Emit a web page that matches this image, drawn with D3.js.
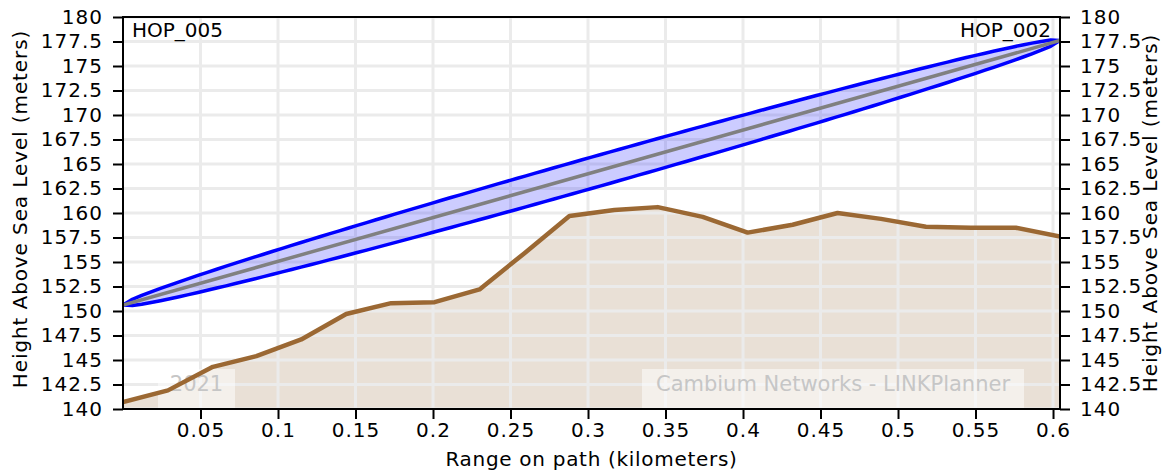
<!DOCTYPE html>
<html>
<head>
<meta charset="utf-8">
<script src="https://cdn.jsdelivr.net/npm/d3@7"></script>
<style>
  body { margin: 0; background: #fff; }
  svg { display: block; }
  text { font-family: "DejaVu Sans", sans-serif; }
</style>
</head>
<body>
<svg id="chart"></svg>
<script>
//Profile data
const distances = [0, 0.029, 0.058, 0.086, 0.115, 0.144, 0.173, 0.201, 0.230, 0.259, 0.288,
  0.317, 0.345, 0.374, 0.403, 0.432, 0.461, 0.489, 0.518, 0.547, 0.576, 0.6045];
const terrain = [140.7, 141.9, 144.3, 145.4, 147.1, 149.7, 150.8, 150.9, 152.2, 155.9, 159.7,
  160.3, 160.6, 159.6, 158.0, 158.8, 160.0, 159.4, 158.6, 158.5, 158.5, 157.6];

//Link ends
const siteNames = ['HOP_005', 'HOP_002'];
const siteHeights = [150.6, 177.6];
const pathLength = 0.6045;
const fresnelRadius = 1.6; //metres at mid path

const xTicks = [0.05, 0.1, 0.15, 0.2, 0.25, 0.3, 0.35, 0.4, 0.45, 0.5, 0.55, 0.6];
const yTicks = [140, 142.5, 145, 147.5, 150, 152.5, 155, 157.5, 160, 162.5, 165, 167.5,
  170, 172.5, 175, 177.5, 180];

const width = 1162;
const height = 475;
const margin = { top: 17, right: 102, bottom: 66, left: 123 };

const svg = d3.select('#chart').attr('width', width).attr('height', height);

const x = d3.scaleLinear().domain([0, pathLength]).range([margin.left, width - margin.right]);
const y = d3.scaleLinear().domain([140, 180]).range([height - margin.bottom, margin.top]);

svg.append('clipPath').attr('id', 'plot-clip').append('rect')
  .attr('x', margin.left).attr('y', margin.top)
  .attr('width', x.range()[1] - x.range()[0])
  .attr('height', y.range()[0] - y.range()[1]);

const plot = svg.append('g').attr('clip-path', 'url(#plot-clip)');

//Terrain fill
const terrainData = distances.map((d, i) => ({ d: d, h: terrain[i] }));
plot.append('path')
  .datum(terrainData)
  .attr('d', d3.area().x(p => x(p.d)).y0(y(140)).y1(p => y(p.h)))
  .attr('fill', '#e9e0d6');

//Grid
plot.selectAll('line.vgrid')
  .data(xTicks)
  .enter()
  .append('line')
  .attr('x1', d => x(d)).attr('x2', d => x(d))
  .attr('y1', margin.top).attr('y2', y(140))
  .attr('stroke', '#ebebeb').attr('stroke-width', 3);
plot.selectAll('line.hgrid')
  .data(yTicks)
  .enter()
  .append('line')
  .attr('y1', d => y(d)).attr('y2', d => y(d))
  .attr('x1', margin.left).attr('x2', x(pathLength))
  .attr('stroke', '#ebebeb').attr('stroke-width', 3);

//Watermarks
const marks = [
  { text: '2021', x0: 158, x1: 235 },
  { text: 'Cambium Networks - LINKPlanner', x0: 642, x1: 1024 }
];
marks.forEach(m => {
  plot.append('rect')
    .attr('x', m.x0).attr('y', 369)
    .attr('width', m.x1 - m.x0).attr('height', 40)
    .attr('fill', '#fff').attr('fill-opacity', 0.5);
  plot.append('text')
    .attr('x', (m.x0 + m.x1) / 2).attr('y', 385)
    .attr('text-anchor', 'middle')
    .attr('dominant-baseline', 'middle')
    .attr('font-size', 21)
    .attr('fill', '#c6c6c6')
    .text(m.text);
});

//Terrain line
plot.append('path')
  .datum(terrainData)
  .attr('d', d3.line().x(p => x(p.d)).y(p => y(p.h)))
  .attr('fill', 'none')
  .attr('stroke', '#9b6833')
  .attr('stroke-width', 4.5)
  .attr('stroke-linejoin', 'round');

//Fresnel zone
const losAt = d => siteHeights[0] + (siteHeights[1] - siteHeights[0]) * d / pathLength;
const steps = d3.range(0, 101).map(i => pathLength * i / 100);
const upper = steps.map(d => {
  const t = d / pathLength;
  return [x(d), y(losAt(d) + 2 * fresnelRadius * Math.sqrt(t * (1 - t)))];
});
const lower = steps.map(d => {
  const t = d / pathLength;
  return [x(d), y(losAt(d) - 2 * fresnelRadius * Math.sqrt(t * (1 - t)))];
}).reverse();
plot.append('path')
  .attr('d', d3.line()(upper.concat(lower)) + 'Z')
  .attr('fill', '#0000ff').attr('fill-opacity', 0.2)
  .attr('stroke', '#0000ff').attr('stroke-width', 3.5)
  .attr('stroke-linejoin', 'round');

//Line of sight
plot.append('line')
  .attr('x1', x(0)).attr('y1', y(siteHeights[0]))
  .attr('x2', x(pathLength)).attr('y2', y(siteHeights[1]))
  .attr('stroke', '#808080').attr('stroke-width', 3.5);

//Site names
svg.append('text')
  .attr('x', margin.left + 9).attr('y', 37)
  .attr('font-family', '"Liberation Sans", Arial, sans-serif')
  .attr('font-size', 20)
  .text(siteNames[0]);
svg.append('text')
  .attr('x', x(pathLength) - 9).attr('y', 37)
  .attr('text-anchor', 'end')
  .attr('font-family', '"Liberation Sans", Arial, sans-serif')
  .attr('font-size', 20)
  .text(siteNames[1]);

//Frame
svg.append('rect')
  .attr('x', margin.left).attr('y', margin.top)
  .attr('width', x.range()[1] - x.range()[0])
  .attr('height', y.range()[0] - y.range()[1])
  .attr('fill', 'none').attr('stroke', '#000').attr('stroke-width', 2);

//Axes
const styleAxis = g => {
  g.select('.domain').remove();
  g.selectAll('.tick line').attr('stroke', '#000').attr('stroke-width', 2);
  g.selectAll('.tick text').attr('font-size', 20).attr('fill', '#000')
    .attr('letter-spacing', 1)
    .attr('font-family', '"DejaVu Sans", sans-serif');
};

svg.append('g')
  .attr('transform', `translate(0,${y(140)})`)
  .call(d3.axisBottom(x).tickValues(xTicks).tickSize(10).tickPadding(4).tickFormat(d3.format('')))
  .call(styleAxis);

svg.append('g')
  .attr('transform', `translate(${margin.left},0)`)
  .call(d3.axisLeft(y).tickValues(yTicks).tickSize(10).tickPadding(10).tickFormat(d3.format('')))
  .call(styleAxis);

svg.append('g')
  .attr('transform', `translate(${x(pathLength)},0)`)
  .call(d3.axisRight(y).tickValues(yTicks).tickSize(10).tickPadding(10).tickFormat(d3.format('')))
  .call(styleAxis);

//Axis titles
svg.append('text')
  .attr('x', (x.range()[0] + x.range()[1]) / 2)
  .attr('y', 466)
  .attr('text-anchor', 'middle')
  .attr('font-size', 20)
  .attr('letter-spacing', 0.7)
  .text('Range on path (kilometers)');

svg.append('text')
  .attr('transform', 'translate(27,209) rotate(-90)')
  .attr('text-anchor', 'middle')
  .attr('font-size', 20)
  .attr('letter-spacing', 0.9)
  .text('Height Above Sea Level (meters)');
svg.append('text')
  .attr('transform', 'translate(1157,213) rotate(-90)')
  .attr('text-anchor', 'middle')
  .attr('font-size', 20)
  .attr('letter-spacing', 0.9)
  .text('Height Above Sea Level (meters)');
</script>
</body>
</html>
